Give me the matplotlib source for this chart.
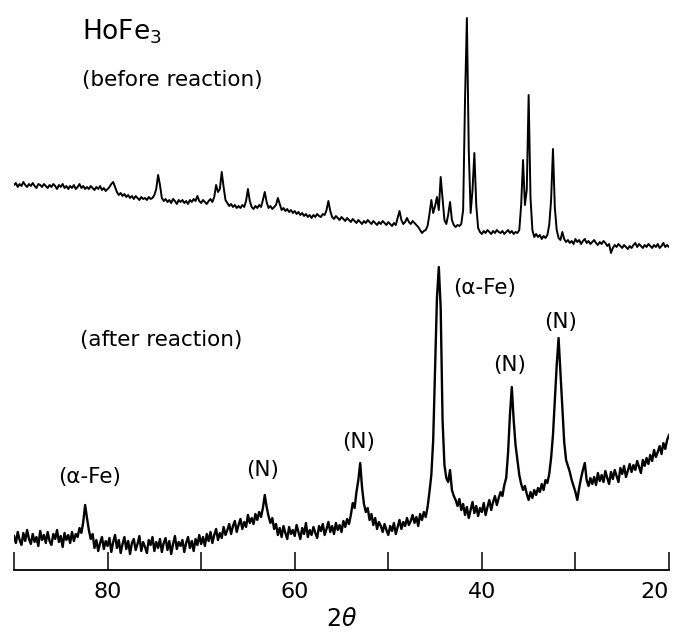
import matplotlib
matplotlib.use('Agg')
import matplotlib.pyplot as plt
import numpy as np

# 2-theta scan, 90 -> 20 deg in 0.2 deg steps
two_theta = np.linspace(90, 20, 351)

# HoFe3 before reaction (arbitrary intensity units)
before = [
    385, 387, 383, 386, 384, 388, 385, 383, 386, 384,
    387, 384, 382, 386, 385, 383, 386, 384, 382, 385,
    383, 386, 384, 381, 385, 383, 386, 382, 384, 381,
    384, 382, 385, 381, 383, 386, 382, 384, 381, 383,
    381, 384, 382, 380, 383, 381, 384, 380, 382, 379,
    381, 383, 386, 388, 383, 378, 375, 377, 374, 376,
    373, 375, 372, 374, 371, 374, 372, 370, 373, 371,
    372, 370, 373, 371, 372, 375, 381, 395, 385, 372,
    369, 371, 368, 370, 367, 371, 369, 366, 370, 368,
    370, 367, 369, 366, 370, 368, 371, 369, 374, 369,
    367, 370, 368, 366, 369, 371, 368, 373, 385, 378,
    381, 398, 383, 370, 367, 364, 366, 363, 365, 362,
    364, 362, 365, 363, 369, 381, 369, 363, 361, 364,
    362, 365, 363, 370, 378, 368, 362, 364, 361, 363,
    365, 372, 366, 360, 362, 359, 361, 358, 360, 357,
    359, 356, 358, 355, 357, 354, 356, 353, 355, 352,
    355, 353, 356, 354, 353, 356, 355, 360, 369, 359,
    353, 351, 354, 352, 350, 353, 351, 349, 352, 350,
    348, 351, 349, 347, 350, 348, 346, 349, 347, 350,
    348, 346, 349, 347, 345, 348, 346, 349, 347, 345,
    348, 346, 344, 347, 345, 352, 359, 350, 346, 348,
    352, 348, 346, 349, 347, 345, 343, 340, 337, 339,
    340, 344, 356, 370, 357, 364, 373, 360, 393, 372,
    350, 346, 355, 368, 350, 345, 343, 345, 344, 346,
    360, 470, 552, 420, 357, 380, 417, 365, 342, 338,
    336, 339, 337, 340, 338, 336, 339, 337, 340, 338,
    337, 339, 336, 338, 340, 337, 339, 336, 338, 337,
    340, 365, 410, 365, 380, 475, 372, 340, 333, 336,
    333, 335, 331, 334, 332, 335, 345, 370, 421, 362,
    340, 332, 330, 338, 331, 328, 330, 327, 329, 326,
    331, 328, 330, 326, 329, 331, 327, 329, 326, 328,
    330, 327, 325, 328, 326, 329, 327, 324, 326, 317,
    322, 325, 323, 326, 324, 322, 325, 323, 321, 324,
    322, 325, 327, 323, 326, 324, 322, 325, 323, 326,
    324, 322, 325, 323, 326, 322, 324, 327, 323, 325,
    323,
]

# after reaction
after = [
    34, 27, 38, 30, 25, 37, 29, 40, 31, 26,
    36, 28, 33, 24, 39, 30, 35, 27, 38, 29,
    25, 36, 31, 40, 28, 34, 23, 37, 30, 35,
    27, 38, 29, 36, 33, 42, 37, 48, 65, 52,
    40, 31, 36, 22, 30, 19, 27, 33, 21, 29,
    24, 32, 18, 28, 35, 22, 30, 17, 26, 33,
    21, 29, 16, 27, 31, 20, 26, 34, 19, 28,
    23, 17, 30, 25, 33, 19, 28, 22, 31, 18,
    27, 32, 20, 29, 16, 26, 34, 21, 28, 24,
    30, 18, 27, 33, 22, 29, 19, 31, 25, 35,
    26, 33, 24, 36, 29, 38, 27, 35, 41, 30,
    37, 32, 43, 35, 40, 46, 36, 44, 49, 38,
    45, 51, 41, 48, 43, 55, 47, 52, 46, 56,
    50, 58, 53, 62, 75, 63, 54, 47, 52, 41,
    46, 35, 42, 33, 44, 37, 31, 43, 36, 40,
    34, 45, 38, 31, 42, 36, 47, 33, 40, 35,
    43, 37, 32, 44, 39, 46, 35, 41, 48, 38,
    44, 36, 47, 40, 45, 38, 49, 43, 51, 46,
    55, 67, 62, 78, 90, 107, 82, 66, 58, 62,
    50, 56, 45, 52, 41, 48, 44, 38, 46, 40,
    35, 44, 39, 47, 36, 43, 50, 41, 48, 44,
    52, 45, 49, 55, 47, 53, 44, 56, 50, 58,
    53, 63, 78, 95, 130, 200, 272, 303, 262, 150,
    105, 92, 88, 100, 80, 74, 70, 64, 71, 60,
    66, 55, 63, 52, 60, 68, 57, 64, 54, 62,
    58, 67, 55, 63, 70, 60, 68, 74, 65, 72,
    78, 74, 85, 92, 117, 155, 183, 150, 125, 110,
    95, 86, 80, 84, 76, 70, 78, 72, 80, 75,
    82, 78, 86, 80, 90, 87, 96, 112, 135, 170,
    205, 232, 198, 165, 128, 110, 104, 98, 90, 84,
    78, 70, 82, 92, 100, 107, 90, 84, 92, 86,
    93, 85, 97, 89, 95, 88, 99, 92, 86, 98,
    91, 100, 94, 88, 102, 96, 104, 93, 99, 106,
    98, 105, 100, 109, 103, 97, 110, 104, 112, 106,
    115, 109, 120, 113, 118, 124, 116, 127, 121, 130,
    135,
]

# peak labels on the lower pattern
peak_labels = ['(α-Fe)', '(N)', '(N)', '(α-Fe)', '(N)', '(N)']
peak_pos = [81.9, 63.4, 53.2, 39.7, 37.0, 31.6]
peak_lab_y = [93, 100, 128, 282, 205, 248]

tick_pos = [90, 80, 70, 60, 50, 40, 30, 20]
tick_lab = ['', '80', '', '60', '', '40', '', '20']

fig = plt.figure(figsize=(6.8, 6.33), dpi=100)
ax = fig.add_axes([14/680, 63/633, 655/680, 570/633])

ax.plot(two_theta, before, color='black', lw=1.4)
ax.plot(two_theta, after, color='black', lw=1.7)

ax.text(82.7, 538, 'HoFe$_3$', fontsize=19, ha='left', va='center')
ax.text(82.7, 490, '(before reaction)', fontsize=15.5, ha='left', va='center')
ax.text(82.9, 230, '(after reaction)', fontsize=15.5, ha='left', va='center')
for lab, xp, yp in zip(peak_labels, peak_pos, peak_lab_y):
    ax.text(xp, yp, lab, fontsize=15.5, ha='center', va='center')

ax.set_xlim(90, 20)
ax.set_ylim(0, 570)
for s in ['left', 'right', 'top']:
    ax.spines[s].set_visible(False)
ax.spines['bottom'].set_linewidth(1.3)
ax.set_yticks([])
ax.set_xticks(tick_pos)
ax.set_xticklabels(tick_lab)
ax.tick_params(axis='x', direction='in', length=13, width=1.1, pad=9, labelsize=16)
ax.get_xticklabels()[-1].set_ha('right')
ax.set_xlabel(r'2$\theta$', fontsize=17, labelpad=3)

fig.savefig('out.png', dpi=100)
